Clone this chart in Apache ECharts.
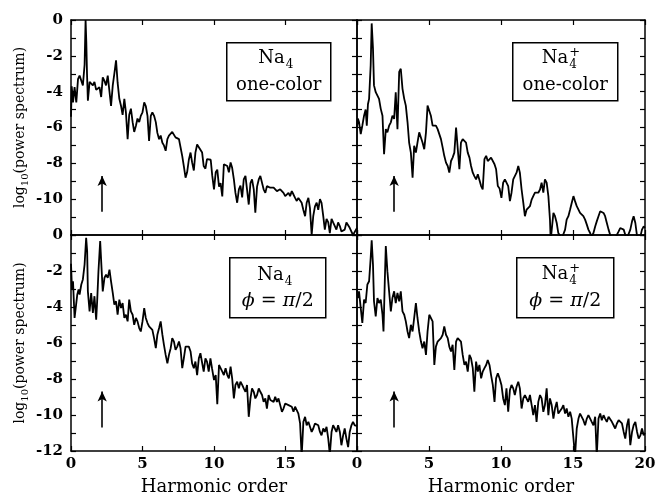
<!DOCTYPE html>
<html>
<head>
<meta charset="UTF-8">
<script src="https://cdnjs.cloudflare.com/ajax/libs/echarts/6.0.0/echarts.min.js"></script>
<title>power spectra</title>
<style>
  body { margin: 0; background: #fff; }
  #chart { width: 657px; height: 498px; }
</style>
</head>
<body>
<div id="chart"></div>
<script>
// log10(power spectrum) vs harmonic order as [order, value]
const naOneColor = [[0,-5.4],[0.05,-3.7],[0.14,-4.6],[0.25,-3.75],[0.37,-4.6],[0.49,-3.3],[0.6,-3.1],[0.72,-3.0],[0.83,-3.65],[0.95,-2.5],[1.02,0],[1.07,-1.2],[1.12,-3.0],[1.18,-4.5],[1.3,-3.45],[1.41,-3.4],[1.53,-3.65],[1.64,-3.45],[1.76,-3.9],[1.88,-4.0],[1.99,-3.75],[2.11,-4.3],[2.22,-3.2],[2.34,-3.4],[2.45,-3.65],[2.57,-3.1],[2.69,-3.0],[2.8,-4.8],[2.92,-3.65],[3.03,-3.0],[3.15,-2.25],[3.26,-3.5],[3.38,-4.4],[3.5,-4.8],[3.61,-5.3],[3.73,-4.4],[3.84,-5.15],[3.96,-6.65],[4.07,-5.3],[4.19,-4.95],[4.31,-5.7],[4.42,-6.25],[4.54,-5.9],[4.65,-5.5],[4.77,-5.7],[4.88,-5.35],[5.0,-5.15],[5.12,-4.6],[5.23,-4.8],[5.35,-5.35],[5.46,-6.75],[5.58,-5.35],[5.69,-5.15],[5.81,-5.35],[5.93,-5.7],[6.04,-6.3],[6.16,-6.65],[6.27,-6.45],[6.39,-6.85],[6.5,-7.0],[6.62,-7.3],[6.74,-6.65],[6.85,-6.45],[6.97,-6.35],[7.08,-6.25],[7.2,-6.2],[7.31,-6.55],[7.43,-6.65],[7.55,-6.65],[7.66,-7.1],[7.78,-7.6],[7.89,-8.15],[8.01,-8.8],[8.12,-8.5],[8.24,-7.8],[8.36,-7.4],[8.47,-7.95],[8.59,-8.4],[8.7,-7.4],[8.82,-6.95],[8.94,-7.1],[9.05,-7.2],[9.17,-7.4],[9.28,-8.15],[9.4,-8.3],[9.51,-7.77],[9.63,-7.7],[9.77,-7.8],[9.88,-8.7],[10.0,-9.45],[10.12,-8.5],[10.23,-8.35],[10.35,-9.3],[10.46,-9.1],[10.58,-9.85],[10.69,-8.05],[10.81,-7.95],[10.93,-8.15],[11.04,-8.5],[11.16,-7.95],[11.27,-8.25],[11.39,-8.9],[11.5,-9.65],[11.62,-10.2],[11.74,-9.45],[11.85,-9.25],[11.97,-9.9],[12.08,-8.9],[12.2,-8.7],[12.31,-9.45],[12.43,-10.3],[12.55,-9.1],[12.66,-8.9],[12.78,-9.45],[12.89,-10.75],[13.01,-9.3],[13.13,-8.9],[13.24,-8.7],[13.36,-8.8],[13.47,-9.45],[13.59,-9.65],[13.7,-9.27],[13.82,-9.27],[13.94,-9.36],[14.05,-9.45],[14.17,-9.36],[14.28,-9.45],[14.4,-9.55],[14.51,-9.65],[14.63,-9.45],[14.75,-9.55],[14.86,-9.65],[14.98,-9.83],[15.09,-9.74],[15.21,-9.65],[15.32,-9.83],[15.44,-9.55],[15.56,-9.74],[15.67,-9.93],[15.79,-10.1],[15.9,-9.93],[16.02,-9.83],[16.13,-10.2],[16.25,-10.6],[16.37,-10.95],[16.48,-10.2],[16.6,-9.93],[16.71,-10.5],[16.83,-12.0],[16.94,-10.95],[17.06,-10.4],[17.18,-10.2],[17.29,-10.6],[17.41,-10.0],[17.52,-10.2],[17.64,-10.95],[17.75,-11.7],[17.87,-11.1],[17.99,-11.3],[18.1,-11.9],[18.22,-11.1],[18.33,-11.3],[18.45,-11.5],[18.56,-11.7],[18.68,-11.3],[18.8,-11.5],[18.91,-11.8],[19.03,-11.9],[19.14,-11.7],[19.26,-11.3],[19.38,-11.4],[19.49,-11.6],[19.61,-11.7],[19.72,-12.0],[19.84,-11.9],[20,-11.6]];

const naPlusOneColor = [[0,-6.0],[0.06,-5.5],[0.14,-5.7],[0.26,-6.37],[0.37,-5.9],[0.49,-5.34],[0.6,-5.0],[0.68,-5.9],[0.76,-4.7],[0.84,-4.4],[0.95,-2.53],[1.02,-0.19],[1.11,-1.59],[1.18,-3.65],[1.3,-4.03],[1.42,-3.93],[1.53,-4.4],[1.65,-4.96],[1.77,-5.34],[1.88,-7.49],[2.0,-6.09],[2.11,-6.27],[2.23,-5.9],[2.35,-5.71],[2.46,-5.34],[2.58,-5.52],[2.69,-4.03],[2.81,-6.09],[2.93,-2.9],[3.04,-2.72],[3.16,-3.84],[3.28,-4.4],[3.39,-4.78],[3.51,-5.71],[3.62,-6.84],[3.74,-7.4],[3.86,-8.8],[3.97,-7.02],[4.09,-7.4],[4.2,-6.84],[4.32,-6.27],[4.44,-6.18],[4.55,-6.84],[4.67,-7.21],[4.79,-6.27],[4.9,-4.78],[5.02,-4.68],[5.13,-5.34],[5.25,-5.9],[5.37,-5.81],[5.48,-5.9],[5.6,-6.09],[5.71,-6.18],[5.83,-6.65],[5.95,-7.12],[6.06,-7.58],[6.18,-7.96],[6.3,-8.15],[6.41,-8.52],[6.53,-7.87],[6.64,-7.68],[6.76,-7.4],[6.88,-6.0],[6.99,-5.9],[7.11,-8.33],[7.22,-6.84],[7.34,-6.65],[7.46,-6.74],[7.57,-6.84],[7.69,-7.4],[7.81,-7.68],[7.92,-8.15],[8.04,-8.52],[8.15,-8.71],[8.27,-8.9],[8.39,-8.61],[8.5,-8.71],[8.62,-9.27],[8.73,-9.46],[8.85,-7.77],[8.97,-7.58],[9.08,-7.87],[9.2,-7.96],[9.31,-7.68],[9.43,-7.77],[9.55,-8.05],[9.66,-8.33],[9.78,-9.27],[9.9,-9.4],[10.03,-9.93],[10.15,-9.08],[10.27,-8.9],[10.38,-8.8],[10.5,-9.27],[10.62,-10.11],[10.73,-9.64],[10.85,-8.9],[10.96,-8.71],[11.08,-8.52],[11.2,-8.15],[11.31,-8.52],[11.43,-9.46],[11.55,-10.21],[11.66,-10.95],[11.78,-10.58],[11.89,-10.58],[12.01,-10.39],[12.13,-10.02],[12.24,-9.83],[12.36,-9.64],[12.47,-9.55],[12.59,-9.64],[12.71,-9.46],[12.82,-9.08],[12.94,-9.64],[13.05,-8.9],[13.17,-9.08],[13.29,-9.83],[13.4,-11.14],[13.45,-12.3],[13.52,-12.2],[13.64,-10.77],[13.75,-10.95],[13.87,-11.33],[13.98,-11.89],[14.1,-11.8],[14.22,-12.2],[14.33,-12.2],[14.45,-11.7],[14.56,-11.14],[14.68,-10.95],[14.8,-10.58],[14.91,-10.21],[15.03,-9.83],[15.14,-10.11],[15.26,-10.39],[15.38,-10.58],[15.49,-10.77],[15.61,-10.86],[15.72,-10.95],[15.84,-11.14],[15.96,-11.42],[16.07,-11.7],[16.19,-11.89],[16.3,-12.08],[16.42,-11.89],[16.54,-11.52],[16.65,-11.24],[16.77,-10.95],[16.89,-10.67],[17.0,-10.67],[17.12,-10.77],[17.23,-10.95],[17.35,-11.33],[17.47,-11.7],[17.58,-11.99],[17.7,-12.17],[17.82,-12.17],[17.93,-12.17],[18.05,-12.08],[18.17,-11.8],[18.28,-11.61],[18.4,-11.52],[18.52,-11.7],[18.63,-11.99],[18.75,-12.17],[18.86,-12.08],[18.98,-11.7],[19.1,-11.24],[19.21,-10.95],[19.33,-11.33],[19.45,-12.08],[19.56,-12.17],[19.68,-12.08],[19.79,-11.7],[19.91,-11.52],[20,-11.6]];

const naPhi = [[0,-1.6],[0.07,-3.03],[0.14,-2.57],[0.25,-4.61],[0.37,-4.71],[0.44,-3.3],[0.53,-3.03],[0.6,-3.31],[0.72,-2.75],[0.83,-2.47],[0.95,-1.64],[1.06,-0.15],[1.13,-0.9],[1.18,-3.13],[1.3,-4.24],[1.41,-3.22],[1.53,-4.33],[1.64,-3.4],[1.76,-4.71],[1.83,-3.68],[1.92,-2.01],[2.04,-0.33],[2.11,-1.45],[2.22,-3.13],[2.34,-2.38],[2.45,-2.2],[2.57,-2.38],[2.69,-1.92],[2.8,-2.57],[2.92,-3.22],[3.03,-3.87],[3.15,-3.68],[3.26,-4.43],[3.38,-3.59],[3.5,-4.06],[3.61,-3.78],[3.73,-4.61],[3.84,-4.43],[3.96,-4.8],[4.07,-3.59],[4.19,-4.24],[4.31,-4.43],[4.42,-4.99],[4.54,-4.61],[4.65,-4.8],[4.77,-5.17],[4.88,-5.36],[5.0,-4.8],[5.12,-4.06],[5.23,-4.61],[5.35,-4.89],[5.46,-5.08],[5.58,-4.99],[5.69,-5.27],[5.81,-5.73],[5.93,-6.29],[6.04,-5.54],[6.16,-5.17],[6.27,-4.8],[6.39,-5.54],[6.5,-6.1],[6.62,-6.66],[6.74,-7.13],[6.85,-6.66],[6.97,-6.29],[7.08,-5.73],[7.2,-5.92],[7.31,-6.38],[7.43,-6.2],[7.55,-5.92],[7.66,-6.29],[7.78,-7.4],[7.89,-6.85],[8.01,-6.2],[8.12,-6.1],[8.24,-6.2],[8.36,-6.47],[8.47,-7.13],[8.59,-7.4],[8.7,-7.03],[8.82,-7.78],[8.94,-6.85],[9.05,-6.57],[9.17,-6.66],[9.28,-7.59],[9.4,-6.85],[9.51,-7.03],[9.63,-7.59],[9.75,-6.85],[9.86,-7.4],[10.0,-8.06],[10.12,-7.78],[10.23,-9.4],[10.35,-7.22],[10.46,-7.31],[10.58,-7.59],[10.69,-7.78],[10.81,-7.4],[10.93,-7.78],[11.04,-7.96],[11.16,-7.31],[11.27,-7.96],[11.39,-9.08],[11.5,-8.33],[11.62,-8.15],[11.74,-8.52],[11.85,-8.15],[11.97,-8.33],[12.08,-8.52],[12.2,-8.71],[12.31,-8.33],[12.43,-10.1],[12.55,-9.08],[12.66,-8.52],[12.78,-8.71],[12.89,-9.08],[13.01,-8.89],[13.13,-8.52],[13.24,-8.71],[13.36,-8.89],[13.47,-9.27],[13.59,-9.08],[13.7,-9.64],[13.82,-8.89],[13.94,-9.17],[14.05,-9.08],[14.17,-9.27],[14.28,-8.99],[14.4,-9.27],[14.51,-9.08],[14.63,-9.45],[14.75,-9.82],[14.86,-9.64],[14.98,-9.36],[15.09,-9.27],[15.21,-9.45],[15.32,-9.36],[15.44,-9.54],[15.56,-9.82],[15.67,-9.54],[15.79,-9.64],[15.9,-9.92],[16.02,-10.47],[16.13,-12.3],[16.25,-10.38],[16.37,-10.1],[16.48,-10.57],[16.6,-10.38],[16.71,-10.47],[16.83,-10.94],[16.94,-10.75],[17.06,-10.47],[17.18,-10.38],[17.29,-10.57],[17.41,-10.94],[17.52,-11.13],[17.64,-10.75],[17.75,-10.94],[17.87,-10.66],[17.99,-11.31],[18.1,-12.2],[18.22,-10.94],[18.33,-10.57],[18.45,-10.75],[18.56,-10.94],[18.68,-10.57],[18.8,-10.94],[18.91,-11.68],[19.03,-11.13],[19.14,-10.75],[19.26,-11.31],[19.38,-11.78],[19.49,-10.94],[19.61,-10.57],[19.72,-10.38],[19.84,-10.57],[20,-10.6]];

const naPlusPhi = [[0,-3.03],[0.07,-3.5],[0.14,-3.13],[0.26,-4.06],[0.37,-4.89],[0.49,-3.59],[0.6,-3.78],[0.72,-2.75],[0.84,-2.57],[0.95,-1.27],[1.02,-0.3],[1.11,-1.64],[1.18,-3.68],[1.3,-4.52],[1.42,-3.5],[1.53,-3.78],[1.65,-3.59],[1.77,-4.43],[1.84,-5.36],[1.93,-2.57],[2.0,-0.61],[2.11,-2.01],[2.23,-3.13],[2.35,-4.24],[2.46,-3.5],[2.58,-3.13],[2.69,-3.78],[2.81,-3.22],[2.93,-3.68],[3.04,-3.13],[3.16,-4.24],[3.28,-4.43],[3.39,-4.8],[3.51,-5.36],[3.62,-5.73],[3.74,-4.99],[3.86,-5.36],[3.97,-4.61],[4.09,-3.78],[4.2,-4.61],[4.32,-5.36],[4.44,-5.92],[4.55,-6.29],[4.67,-5.92],[4.79,-6.66],[4.9,-5.36],[5.02,-4.43],[5.13,-4.33],[5.25,-4.8],[5.37,-7.22],[5.48,-6.2],[5.6,-5.92],[5.71,-6.01],[5.83,-5.73],[5.95,-5.54],[6.06,-5.08],[6.18,-5.54],[6.3,-5.73],[6.41,-6.2],[6.53,-6.47],[6.64,-6.1],[6.76,-7.5],[6.88,-5.92],[6.99,-5.73],[7.11,-5.73],[7.22,-5.92],[7.34,-6.66],[7.46,-7.22],[7.57,-7.03],[7.69,-7.59],[7.81,-6.66],[7.92,-6.85],[8.04,-7.4],[8.15,-8.71],[8.27,-7.03],[8.39,-7.59],[8.5,-7.22],[8.62,-7.96],[8.73,-7.59],[8.85,-7.4],[8.97,-7.22],[9.08,-6.94],[9.2,-7.22],[9.31,-7.78],[9.43,-8.33],[9.55,-9.27],[9.66,-7.96],[9.78,-7.68],[9.9,-7.96],[10.03,-8.33],[10.15,-9.08],[10.27,-9.45],[10.38,-8.52],[10.5,-9.82],[10.62,-8.61],[10.73,-8.33],[10.85,-8.52],[10.96,-8.89],[11.08,-8.43],[11.2,-8.15],[11.31,-8.52],[11.43,-9.64],[11.55,-9.08],[11.66,-8.89],[11.78,-8.8],[11.89,-9.27],[12.01,-8.89],[12.13,-9.45],[12.24,-10.01],[12.36,-9.45],[12.47,-10.38],[12.59,-9.27],[12.71,-8.89],[12.82,-9.08],[12.94,-9.82],[13.05,-9.45],[13.17,-8.52],[13.29,-10.01],[13.4,-9.08],[13.52,-9.45],[13.64,-10.2],[13.75,-9.64],[13.87,-9.27],[13.98,-9.92],[14.1,-9.82],[14.22,-9.64],[14.33,-9.45],[14.45,-9.92],[14.56,-9.64],[14.68,-10.1],[14.8,-9.82],[14.91,-10.2],[15.03,-10.2],[15.14,-12.3],[15.26,-10.75],[15.38,-10.2],[15.49,-9.92],[15.61,-10.01],[15.72,-10.29],[15.84,-10.57],[15.96,-10.2],[16.07,-10.01],[16.19,-10.1],[16.3,-10.38],[16.42,-10.57],[16.54,-10.1],[16.65,-12.3],[16.77,-10.2],[16.89,-9.92],[17.0,-10.29],[17.12,-10.01],[17.23,-10.2],[17.35,-10.38],[17.47,-10.1],[17.58,-10.2],[17.7,-10.38],[17.82,-10.57],[17.93,-10.75],[18.05,-10.47],[18.17,-10.29],[18.28,-10.2],[18.4,-10.47],[18.52,-10.94],[18.63,-11.31],[18.75,-10.57],[18.86,-10.2],[18.98,-11.68],[19.1,-10.94],[19.21,-10.57],[19.33,-10.38],[19.45,-10.94],[19.56,-11.31],[19.68,-11.13],[19.79,-10.75],[19.91,-11.13],[20,-11.0]];

// arrow marking the second-colour frequency in each panel
const arrowX = [2.18, 2.58, 2.18, 2.58];
const arrowFrom = -10.7;
const arrowTo = -8.7;

const panelData = [naOneColor, naPlusOneColor, naPhi, naPlusPhi];
const panelPlus = [false, true, false, true];
const panelSecondLine = ['one-color', 'one-color', 'phi', 'phi'];

const serif = 'DejaVu Serif';

const grids = [
  { left: 71, top: 20, width: 286, height: 215 },
  { left: 357, top: 20, width: 288, height: 215 },
  { left: 71, top: 235, width: 286, height: 216 },
  { left: 357, top: 235, width: 288, height: 216 }
];
// legend box placement (px), one per panel
const boxes = [
  { left: 226, top: 42, w: 104, h: 58, y1: 16, y2: 43 },
  { left: 512, top: 42, w: 105, h: 58, y1: 16, y2: 43 },
  { left: 229, top: 257, w: 96, h: 60, y1: 18, y2: 43 },
  { left: 516, top: 257, w: 97, h: 60, y1: 17, y2: 43 }
];

const axisLine = { show: true, onZero: false, lineStyle: { color: '#000', width: 1.5 } };
const tickStyle = { color: '#000', width: 1.2 };

function xAxisFor(i, top) {
  const labelled = i >= 2 && !top;
  return {
    type: 'value', gridIndex: i, position: top ? 'top' : 'bottom',
    min: 0, max: 20, interval: 5,
    axisLine: axisLine,
    axisTick: { inside: true, length: 5, lineStyle: tickStyle },
    splitLine: { show: false },
    axisLabel: {
      show: labelled, color: '#000', fontFamily: serif, fontSize: 15, fontWeight: 'bold', margin: 6,
      formatter: v => (i === 2 && v === 20) ? '' : String(v)
    },
    name: labelled ? 'Harmonic order' : '',
    nameLocation: 'middle', nameGap: 27,
    nameTextStyle: { color: '#000', fontFamily: serif, fontSize: 18 }
  };
}

function yAxisFor(i, right) {
  const labelled = !right && (i === 0 || i === 2);
  return {
    type: 'value', gridIndex: i, position: right ? 'right' : 'left',
    min: -12, max: 0, interval: 2,
    axisLine: axisLine,
    axisTick: { inside: true, length: 5, lineStyle: tickStyle },
    minorTick: { show: true, splitNumber: 2, length: 5, lineStyle: tickStyle },
    splitLine: { show: false },
    minorSplitLine: { show: false },
    axisLabel: {
      show: labelled, color: '#000', fontFamily: serif, fontSize: 15, fontWeight: 'bold', margin: 8,
      formatter: v => (i === 0 && v === -12) ? '' : String(v)
    },
    name: labelled ? '{a|log}{b|10}{a|(power spectrum)}' : '',
    nameLocation: 'middle', nameRotate: 90, nameGap: 41,
    nameTextStyle: {
      rich: {
        a: { fontFamily: serif, fontSize: 14, color: '#000', lineHeight: 20 },
        b: { fontFamily: serif, fontSize: 10, color: '#000', lineHeight: 10, verticalAlign: 'bottom' }
      }
    }
  };
}

const xAxes = [], yAxes = [], series = [], graphics = [];
for (let i = 0; i < 4; i++) {
  xAxes.push(xAxisFor(i, false), xAxisFor(i, true));
  yAxes.push(yAxisFor(i, false), yAxisFor(i, true));
  series.push({
    type: 'line', xAxisIndex: 2 * i, yAxisIndex: 2 * i,
    data: panelData[i], showSymbol: false, symbol: 'none', clip: true,
    lineStyle: { color: '#000', width: 1.8 },
    markLine: {
      silent: true, symbol: ['none', 'arrow'], symbolSize: [7, 10],
      lineStyle: { color: '#000', width: 1.6, type: 'solid' },
      label: { show: false },
      data: [[{ coord: [arrowX[i], arrowFrom] }, { coord: [arrowX[i], arrowTo] }]]
    }
  });

  // legend box
  const b = boxes[i];
  const cx = b.w / 2;
  const naRight = panelPlus[i] ? cx + 3 : cx + 6;
  const kids = [
    { type: 'rect', shape: { x: 0, y: 0, width: b.w, height: b.h },
      style: { fill: '#fff', stroke: '#000', lineWidth: 1.5 } },
    { type: 'text', x: naRight, y: b.y1,
      style: { text: 'Na', font: '18px "DejaVu Serif"', fill: '#000', align: 'right', verticalAlign: 'middle' } },
    { type: 'text', x: naRight + 1, y: b.y1 + 6,
      style: { text: '4', font: '12px "DejaVu Serif"', fill: '#000', align: 'left', verticalAlign: 'middle' } }
  ];
  if (panelPlus[i]) {
    kids.push({ type: 'text', x: naRight + 1, y: b.y1 - 6,
      style: { text: '+', font: '13px "DejaVu Serif"', fill: '#000', align: 'left', verticalAlign: 'middle' } });
  }
  if (panelSecondLine[i] === 'phi') {
    kids.push({ type: 'text', x: cx, y: b.y2,
      style: {
        text: '{i|ϕ}{r| = }{i|π}{r|/2}', align: 'center', verticalAlign: 'middle', fill: '#000',
        rich: {
          i: { fontFamily: serif, fontSize: 19, fontStyle: 'italic', fill: '#000' },
          r: { fontFamily: serif, fontSize: 19, fill: '#000' }
        }
      } });
  } else {
    kids.push({ type: 'text', x: cx, y: b.y2,
      style: { text: panelSecondLine[i], font: '18px "DejaVu Serif"', fill: '#000', align: 'center', verticalAlign: 'middle' } });
  }
  graphics.push({ type: 'group', left: b.left, top: b.top, children: kids });
}

const chart = echarts.init(document.getElementById('chart'));
chart.setOption({
  animation: false,
  backgroundColor: '#fff',
  grid: grids.map(g => Object.assign({ outerBoundsMode: 'none', containLabel: false }, g)),
  xAxis: xAxes,
  yAxis: yAxes,
  series: series,
  graphic: graphics
});
</script>
</body>
</html>
